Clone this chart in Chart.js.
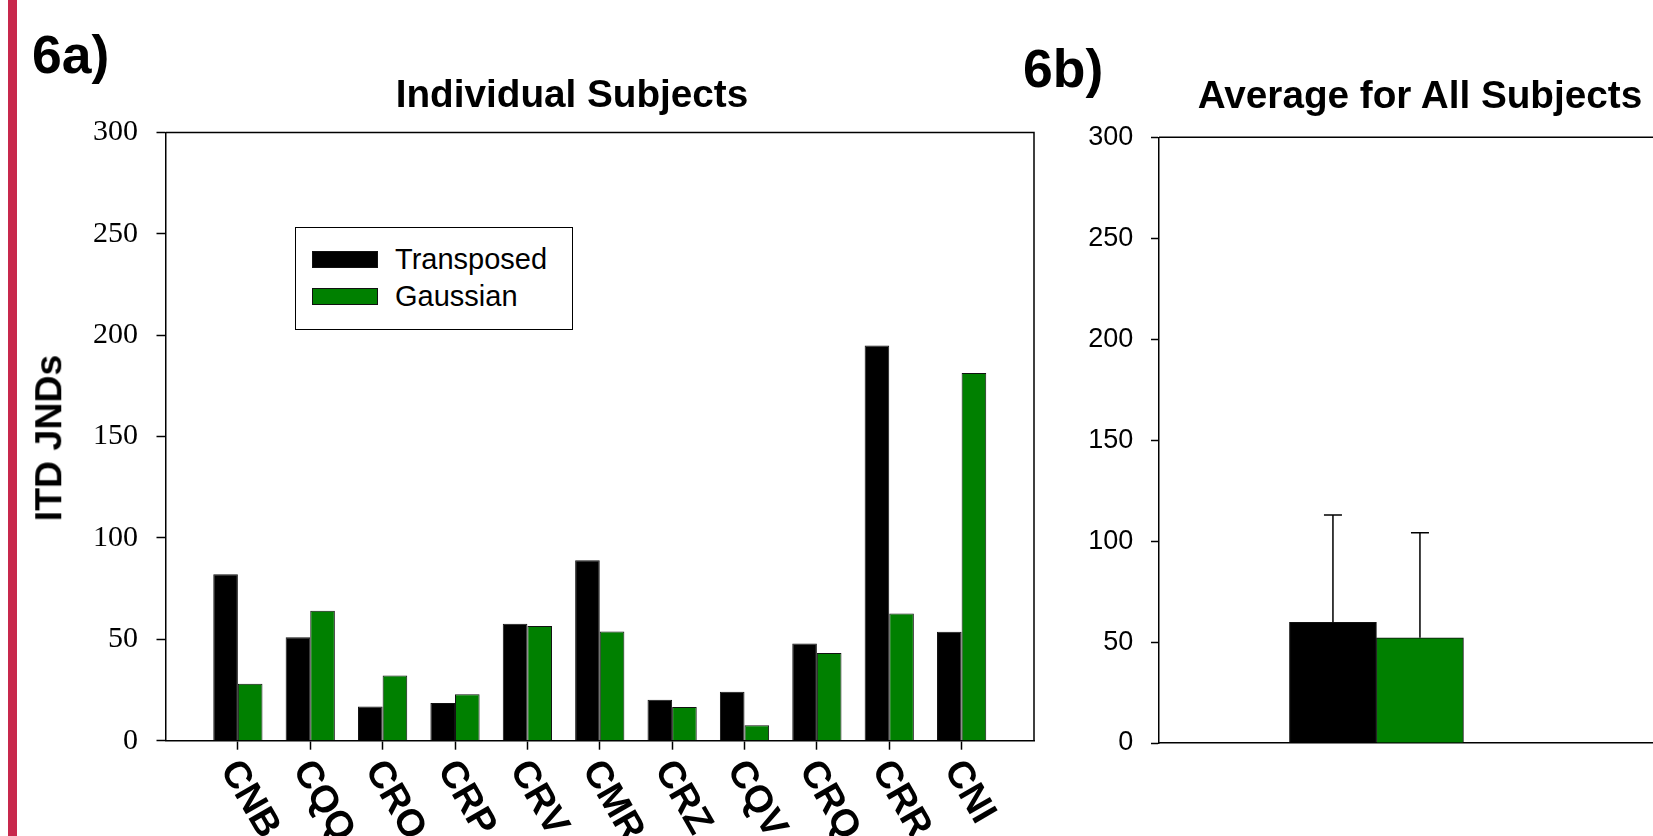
<!DOCTYPE html>
<html>
<head>
<meta charset="utf-8">
<script src="https://cdn.jsdelivr.net/npm/chart.js@4.4.1/dist/chart.umd.min.js"></script>
<style>
  html, body { margin: 0; padding: 0; width: 1653px; height: 836px; overflow: hidden; background: #fff; }
  body { font-family: 'Liberation Sans', Arial, sans-serif; color: #000; }
  .abs { position: absolute; white-space: nowrap; line-height: 1; }
  #stripe { position: absolute; left: 8px; top: 0; width: 9px; height: 836px; background: #c8284c; }
  .panel { font-weight: bold; font-size: 53.5px; }
  .title { font-weight: bold; font-size: 38.7px; text-align: center; width: 700px; }
  #ytitle { font-weight: bold; font-size: 37.5px; left: 49px; top: 438px; transform: translate(-50%, -50%) rotate(-90deg); }
  #legend { position: absolute; left: 295px; top: 227px; width: 276px; height: 101px; border: 1.5px solid #000; background: #fff; }
  .sw { position: absolute; width: 64px; height: 15px; border: 1px solid #111; }
  .lt { position: absolute; font-size: 29px; line-height: 1; white-space: nowrap; }
  canvas { position: absolute; top: 0; }
</style>
</head>
<body>
<div id="stripe"></div>
<canvas id="individual" width="1040" height="836" style="left:0"></canvas>
<canvas id="average" width="664" height="836" style="left:1040px"></canvas>

<div class="abs panel" style="left:32px; top:28px;">6a)</div>
<div class="abs panel" style="left:1023px; top:42px;">6b)</div>
<div class="abs title" style="left:222px; top:75px;">Individual Subjects</div>
<div class="abs title" style="left:1070px; top:76px;">Average for All Subjects</div>
<div class="abs" id="ytitle">ITD JNDs</div>
<div id="legend"></div>

<script>
// Subjects and ITD JND values (µs) per stimulus type
const subjects = ['CNB', 'CQQ', 'CRO', 'CRP', 'CRV', 'CMR', 'CRZ', 'CQV', 'CRQ', 'CRR', 'CNI'];
const transposed = [82.1, 51.0, 16.9, 18.6, 57.7, 89.0, 20.2, 24.2, 47.9, 194.9, 53.8];
const gaussian = [28.1, 64.1, 32.1, 22.9, 56.6, 53.9, 16.6, 7.6, 43.3, 62.8, 181.4];

// Group averages with their standard deviations
const seriesNames = ['Transposed', 'Gaussian'];
const averageMeans = [59.8, 52.1];
const averageErrors = [53.1, 52.0];

// Y axis tick values
const yTicks = [0, 50, 100, 150, 200, 250, 300];

const seriesColors = ['#000000', '#008000'];

// Legend box
const legendEl = document.getElementById('legend');
seriesNames.forEach((name, i) => {
  const sw = document.createElement('div');
  sw.className = 'sw';
  sw.style.left = '16px';
  sw.style.top = (23 + i * 36.6) + 'px';
  sw.style.background = seriesColors[i];
  legendEl.appendChild(sw);
  const t = document.createElement('div');
  t.className = 'lt';
  t.textContent = name;
  t.style.left = '99px';
  t.style.top = (17 + i * 36.6) + 'px';
  legendEl.appendChild(t);
});

Chart.defaults.font.family = "'Liberation Sans', Arial, sans-serif";
Chart.defaults.color = '#000';

// Frame lines on the top and right of a plot area
const frame = {
  id: 'frame',
  afterDatasetsDraw(chart) {
    const { ctx, chartArea: a } = chart;
    ctx.save();
    ctx.strokeStyle = '#000';
    ctx.lineWidth = 1.5;
    ctx.beginPath();
    ctx.moveTo(a.left, a.top);
    ctx.lineTo(a.right, a.top);
    ctx.lineTo(a.right, a.bottom);
    ctx.stroke();
    ctx.restore();
  }
};

// Subject names, slanted down to the right under each tick
const slantedLabels = {
  id: 'slantedLabels',
  afterDraw(chart) {
    const { ctx } = chart;
    const xs = chart.scales.x;
    const angle = 60 * Math.PI / 180;
    ctx.save();
    ctx.fillStyle = '#000';
    ctx.font = "bold 38px 'Liberation Sans', Arial, sans-serif";
    ctx.textAlign = 'left';
    ctx.textBaseline = 'middle';
    subjects.forEach((name, i) => {
      const px = xs.getPixelForValue(i + 1);
      ctx.save();
      ctx.translate(px - 9, xs.top + 23);
      ctx.rotate(angle);
      ctx.fillText(name, 0, 0);
      ctx.restore();
    });
    ctx.restore();
  }
};

// Upward error bars with caps on the average bars
const errorBars = {
  id: 'errorBars',
  afterDatasetsDraw(chart) {
    const { ctx } = chart;
    const ys = chart.scales.y;
    ctx.save();
    ctx.strokeStyle = '#000';
    ctx.lineWidth = 1.5;
    chart.data.datasets.forEach((ds, i) => {
      chart.getDatasetMeta(i).data.forEach((bar, j) => {
        const top = ys.getPixelForValue(ds.data[j].y + ds.errors[j]);
        ctx.beginPath();
        ctx.moveTo(bar.x, bar.y);
        ctx.lineTo(bar.x, top);
        ctx.moveTo(bar.x - 9, top);
        ctx.lineTo(bar.x + 9, top);
        ctx.stroke();
      });
    });
    ctx.restore();
  }
};

const yAxis = (width, font, padding, tickLen) => ({
  min: 0, max: 300,
  afterFit: s => { s.width = width; },
  afterBuildTicks: s => { s.ticks = yTicks.map(v => ({ value: v })); },
  ticks: { font, padding, color: '#000' },
  grid: { drawOnChartArea: false, drawTicks: true, tickLength: tickLen, tickColor: '#000', tickWidth: 1.5 },
  border: { color: '#000', width: 1.5 }
});

// 6a: individual subjects
const paddedLabels = ['', ...subjects, ''];
const lastIndex = paddedLabels.length - 1;
new Chart(document.getElementById('individual'), {
  type: 'bar',
  data: {
    labels: paddedLabels,
    datasets: [
      { label: seriesNames[0], data: [null, ...transposed, null], backgroundColor: seriesColors[0], borderColor: '#111', borderWidth: 1 },
      { label: seriesNames[1], data: [null, ...gaussian, null], backgroundColor: seriesColors[1], borderColor: '#111', borderWidth: 1 }
    ]
  },
  options: {
    responsive: false, animation: false, devicePixelRatio: 1,
    layout: { padding: { top: 132.5, right: 6, left: 0, bottom: 0 } },
    datasets: { bar: { categoryPercentage: 0.68, barPercentage: 1 } },
    plugins: { legend: { display: false }, tooltip: { enabled: false }, title: { display: false } },
    scales: {
      x: {
        type: 'category', offset: false,
        afterFit: s => { s.height = 95.3; },
        ticks: { display: false },
        grid: {
          offset: false,
          drawOnChartArea: false, drawTicks: true, tickLength: 9, tickWidth: 1.5,
          tickColor: c => (c.index === 0 || c.index === lastIndex) ? 'rgba(0,0,0,0)' : '#000'
        },
        border: { color: '#000', width: 1.5 }
      },
      y: yAxis(165.5, { family: "'Liberation Serif', 'Times New Roman', serif", size: 30 }, 18.5, 9)
    }
  },
  plugins: [frame, slantedLabels]
});

// 6b: average across subjects
const averageGroup = 1;
new Chart(document.getElementById('average'), {
  type: 'bar',
  data: {
    datasets: seriesNames.map((name, i) => ({
      label: name,
      data: [{ x: averageGroup, y: averageMeans[i] }],
      errors: [averageErrors[i]],
      backgroundColor: seriesColors[i], borderColor: '#111', borderWidth: 1
    }))
  },
  options: {
    responsive: false, animation: false, devicePixelRatio: 1,
    layout: { padding: { top: 137.3, right: 0, left: 0, bottom: 0 } },
    datasets: { bar: { barThickness: 87 } },
    plugins: { legend: { display: false }, tooltip: { enabled: false }, title: { display: false } },
    scales: {
      x: {
        type: 'linear', min: 0, max: 2.64,
        afterFit: s => { s.height = 93; },
        ticks: { display: false },
        grid: { display: false },
        border: { color: '#000', width: 1.5 }
      },
      y: yAxis(119, { family: "'Liberation Sans', Arial, sans-serif", size: 27 }, 17.7, 8)
    }
  },
  plugins: [frame, errorBars]
});
</script>
</body>
</html>
